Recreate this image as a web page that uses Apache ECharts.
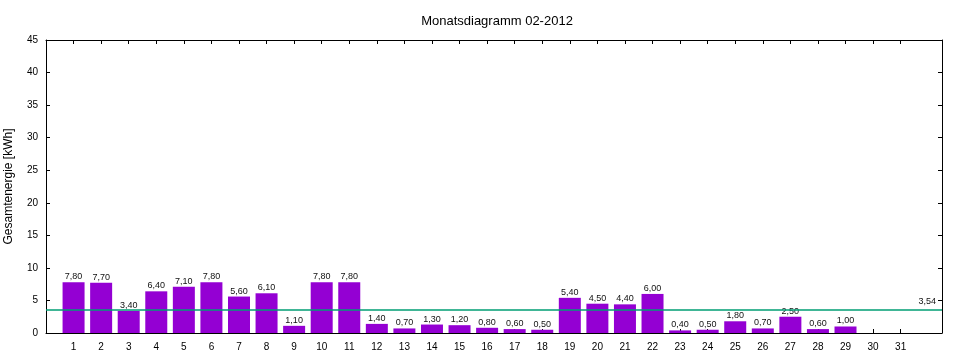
<!DOCTYPE html>
<html><head><meta charset="utf-8">
<script src="https://cdn.jsdelivr.net/npm/echarts@6/dist/echarts.min.js"></script>
<style>html,body{margin:0;padding:0;background:#fff}#c{width:960px;height:360px}</style>
</head><body><div id="c"></div>
<script>
const days = [1,2,3,4,5,6,7,8,9,10,11,12,13,14,15,16,17,18,19,20,21,22,23,24,25,26,27,28,29,30,31];
const energy = [7.8,7.7,3.4,6.4,7.1,7.8,5.6,6.1,1.1,7.8,7.8,1.4,0.7,1.3,1.2,0.8,0.6,0.5,5.4,4.5,4.4,6.0,0.4,0.5,1.8,0.7,2.5,0.6,1.0,null,null];
const average = 3.54;
const yTicks = [0,5,10,15,20,25,30,35,40,45];
const titleText = 'Monatsdiagramm 02-2012';
const yName = 'Gesamtenergie [kWh]';

const fmt = v => v.toFixed(2).replace('.', ',');
const font = 'Liberation Sans, Arial, sans-serif';
const chart = echarts.init(document.getElementById('c'), null, {renderer:'canvas'});
const axisLine = {show:true, onZero:false, lineStyle:{color:'#000', width:1}};
const tick = {show:true, inside:true, length:4, lineStyle:{color:'#000'}};
chart.setOption({
  animation:false,
  title:{text:titleText, left:492, top:10, textAlign:'center',
    textStyle:{fontFamily:font, fontSize:13, fontWeight:'normal', color:'#000'}},
  grid:{left:46, right:18, top:40, bottom:27, containLabel:false, outerBoundsMode:'none'},
  xAxis:[
    {type:'value', min:0, max:32.5, interval:1, position:'bottom',
     axisLine, axisTick:Object.assign({customValues:days}, tick),
     axisLabel:{customValues:days, fontFamily:font, fontSize:10, color:'#000', margin:9},
     splitLine:{show:false}},
    {type:'value', min:0, max:32.5, interval:1, position:'top',
     axisLine, axisTick:Object.assign({customValues:days}, tick),
     axisLabel:{show:false}, splitLine:{show:false}}
  ],
  yAxis:[
    {type:'value', min:0, max:45, interval:5, position:'left',
     name:yName, nameLocation:'middle', nameGap:31,
     nameTextStyle:{fontFamily:font, fontSize:12, color:'#000'},
     axisLine, axisTick:tick,
     axisLabel:{customValues:yTicks, fontFamily:font, fontSize:10, color:'#000', margin:8},
     splitLine:{show:false}},
    {type:'value', min:0, max:45, interval:5, position:'right',
     axisLine, axisTick:tick, axisLabel:{show:false}, splitLine:{show:false}}
  ],
  series:[{
    type:'bar', xAxisIndex:0, yAxisIndex:0,
    data: days.map((d,i)=>[d, energy[i]]),
    barWidth:22,
    itemStyle:{color:'#9400d3'},
    label:{show:true, position:'top', distance:1, fontFamily:font, fontSize:9, color:'#111',
      formatter:p => p.value[1]==null ? '' : fmt(p.value[1])},
    markLine:{
      silent:true, symbol:['none','none'],
      lineStyle:{color:'#009e73', width:1.5, type:'solid'},
      label:{show:true, position:'insideEndTop', distance:[6,4], fontFamily:font, fontSize:9, color:'#111',
        formatter:()=>fmt(average)},
      data:[{yAxis:average}]
    }
  }]
});
</script></body></html>
